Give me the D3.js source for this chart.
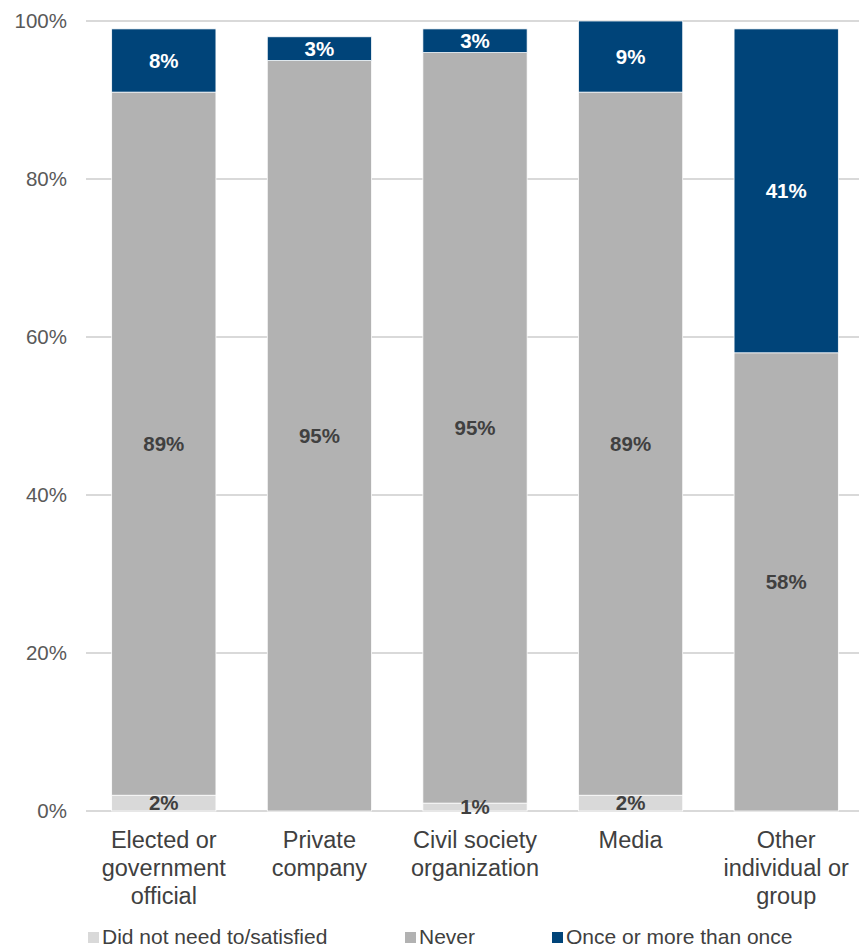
<!DOCTYPE html>
<html>
<head>
<meta charset="utf-8">
<script src="https://cdn.jsdelivr.net/npm/d3@7"></script>
<style>
  html, body { margin: 0; padding: 0; background: #fff; }
  svg { display: block; font-family: "Liberation Sans", Arial, sans-serif; }
</style>
</head>
<body>
<svg id="chart" width="859" height="947"></svg>
<script>
// Categories (multi-line labels)
const categories = [
  ["Elected or", "government", "official"],
  ["Private", "company"],
  ["Civil society", "organization"],
  ["Media"],
  ["Other", "individual or", "group"]
];
const seriesNames = ["Did not need to/satisfied", "Never", "Once or more than once"];
const didNotNeed = [2, 0, 1, 2, 0];
const never = [89, 95, 95, 89, 58];
const onceOrMore = [8, 3, 3, 9, 41];
const yTicks = [0, 20, 40, 60, 80, 100];

const colors = ["#d9d9d9", "#b2b2b2", "#004479"];
const labelColors = ["#404040", "#404040", "#ffffff"];

const svg = d3.select("#chart");
const margin = { left: 86, right: -5, top: 21, bottom: 136 };
const W = 859, H = 947;

const x = d3.scaleBand()
  .domain(d3.range(categories.length))
  .range([margin.left, W - margin.right])
  .paddingInner(0.33)
  .paddingOuter(0.165);

const y = d3.scaleLinear().domain([0, 100]).range([H - margin.bottom, margin.top]);

// Gridlines
svg.append("g")
  .selectAll("line")
  .data(yTicks)
  .join("line")
  .attr("x1", margin.left)
  .attr("x2", W)
  .attr("y1", d => y(d))
  .attr("y2", d => y(d))
  .attr("stroke", "#d9d9d9")
  .attr("stroke-width", 2);

// Y axis labels
const yAxis = d3.axisLeft(y).tickValues(yTicks).tickFormat(d => d + "%").tickSize(0).tickPadding(19);
const ya = svg.append("g").attr("transform", `translate(${margin.left},0)`).call(yAxis);
ya.select(".domain").remove();
ya.selectAll("text").attr("font-size", 20.5).attr("fill", "#595959").attr("font-family", "Liberation Sans, Arial, sans-serif");

// Stack
const rows = categories.map((c, i) => ({ i, s0: didNotNeed[i], s1: never[i], s2: onceOrMore[i] }));
const stack = d3.stack().keys(["s0", "s1", "s2"]);
const layers = stack(rows);

const g = svg.append("g");
layers.forEach((layer, li) => {
  g.append("g")
    .selectAll("rect")
    .data(layer.filter(d => d[1] - d[0] > 0))
    .join("rect")
    .attr("x", d => x(d.data.i))
    .attr("width", x.bandwidth())
    .attr("y", d => y(d[1]))
    .attr("height", d => y(d[0]) - y(d[1]))
    .attr("fill", colors[li])
    .attr("stroke", "#ffffff")
    .attr("stroke-width", 0.75);
});

// Value labels
layers.forEach((layer, li) => {
  g.append("g")
    .selectAll("text")
    .data(layer.filter(d => d[1] - d[0] > 0))
    .join("text")
    .attr("x", d => x(d.data.i) + x.bandwidth() / 2)
    .attr("y", d => (y(d[0]) + y(d[1])) / 2)
    .attr("dy", "0.36em")
    .attr("text-anchor", "middle")
    .attr("font-size", 20.5)
    .attr("font-weight", "bold")
    .attr("fill", labelColors[li])
    .text(d => (d[1] - d[0]) + "%");
});

// Category labels
const xa = svg.append("g");
categories.forEach((lines, i) => {
  const t = xa.append("text")
    .attr("x", x(i) + x.bandwidth() / 2)
    .attr("y", 848)
    .attr("text-anchor", "middle")
    .attr("font-size", 23.5)
    .attr("fill", "#404040");
  lines.forEach((ln, k) => {
    t.append("tspan").attr("x", x(i) + x.bandwidth() / 2).attr("dy", k === 0 ? 0 : 28).text(ln);
  });
});

// Legend
const legendX = [88, 405, 552];
const lg = svg.append("g");
seriesNames.forEach((name, i) => {
  lg.append("rect")
    .attr("x", legendX[i])
    .attr("y", 932)
    .attr("width", 11)
    .attr("height", 11)
    .attr("fill", colors[i]);
  lg.append("text")
    .attr("x", legendX[i] + 14)
    .attr("y", 944)
    .attr("font-size", 21)
    .attr("fill", "#404040")
    .text(name);
});
</script>
</body>
</html>
